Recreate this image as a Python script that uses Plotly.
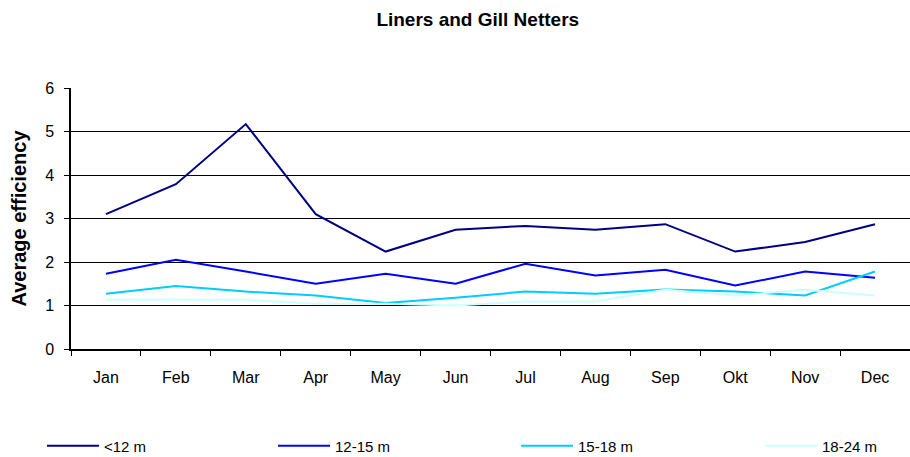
import plotly.graph_objects as go

months = ["Jan", "Feb", "Mar", "Apr", "May", "Jun", "Jul", "Aug", "Sep", "Okt", "Nov", "Dec"]
lt12 = [3.10, 3.79, 5.17, 3.10, 2.24, 2.74, 2.83, 2.74, 2.87, 2.24, 2.46, 2.87]
m12_15 = [1.73, 2.05, 1.78, 1.50, 1.73, 1.50, 1.96, 1.69, 1.82, 1.46, 1.78, 1.64]
m15_18 = [1.27, 1.45, 1.32, 1.23, 1.06, 1.18, 1.32, 1.27, 1.37, 1.32, 1.23, 1.78]
m18_24 = [1.13, 1.13, 1.13, 1.04, 1.04, 1.00, 1.09, 1.09, 1.36, 1.23, 1.36, 1.23]

series_names = ["<12 m", "12-15 m", "15-18 m", "18-24 m"]
series_values = [lt12, m12_15, m15_18, m18_24]
series_colors = ["#000080", "#0000FF", "#00CCFF", "#CCFFFF"]
legend_ids = ["legend", "legend2", "legend3", "legend4"]
legend_x = [-0.0346, 0.2408, 0.5304, 0.8212]

FONT = "Liberation Sans, Arial, sans-serif"
fig = go.Figure()
for name, vals, col, lid in zip(series_names, series_values, series_colors, legend_ids):
    fig.add_trace(go.Scatter(x=months, y=vals, name=name, mode="lines",
                             line=dict(color=col, width=2), legend=lid))

layout_legends = {}
for lid, lx in zip(legend_ids, legend_x):
    layout_legends[lid] = dict(orientation="h", x=lx, xanchor="left",
                               yref="container", y=0.024, yanchor="middle",
                               itemwidth=52, font=dict(size=15, family=FONT),
                               bgcolor="rgba(0,0,0,0)")

fig.update_layout(
    width=910, height=457,
    margin=dict(l=71, r=0, t=88, b=108),
    paper_bgcolor="white", plot_bgcolor="white",
    font=dict(family=FONT, size=16, color="black"),
    title=dict(text="<b>Liners and Gill Netters</b>", x=0.525, xanchor="center",
               y=0.958, yanchor="middle", font=dict(size=19, family=FONT)),
    showlegend=True,
    **layout_legends,
)
fig.update_xaxes(range=[-0.5, 11.5], showline=True, linecolor="black", linewidth=1.5,
                 ticks="outside", ticklen=5, tickcolor="black",
                 tickson="boundaries", showgrid=False, ticklabelstandoff=13)
fig.update_yaxes(range=[0, 6], dtick=1, showline=True, linecolor="black", linewidth=1.5,
                 ticks="outside", ticklen=5, tickcolor="black", ticklabelstandoff=7,
                 showgrid=True, gridcolor="black", gridwidth=1, zeroline=False,
                 title=dict(text="<b>Average efficiency</b>", font=dict(size=20, family=FONT),
                            standoff=13))

fig.write_html("out.html")
